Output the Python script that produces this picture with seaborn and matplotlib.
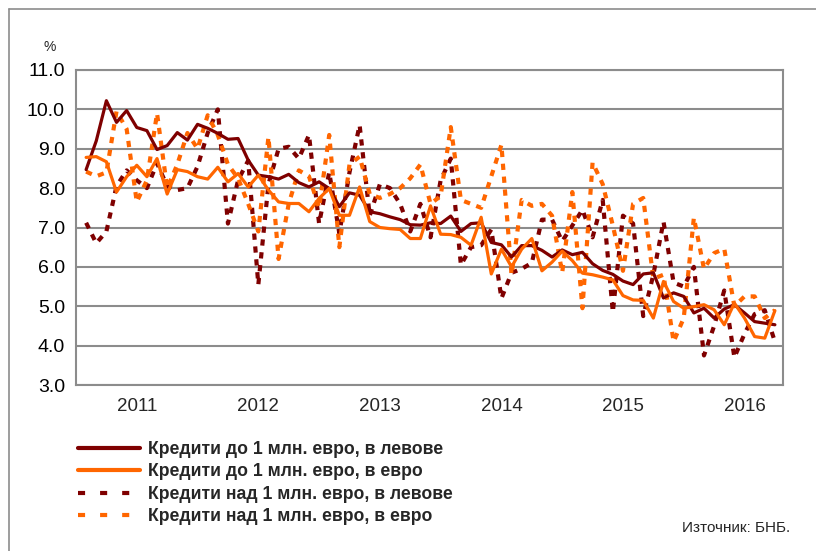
import numpy as np
import pandas as pd
import matplotlib
matplotlib.use("Agg")
import matplotlib.pyplot as plt
from matplotlib.lines import Line2D
import seaborn as sns

# =====================================================
# Data (monthly, Jan 2011 - Sep 2016), %
# =====================================================

months = np.arange(1, 70)

small_bgn = [8.47, 9.2, 10.22, 9.67, 9.97, 9.54, 9.46, 8.98, 9.08, 9.41, 9.22, 9.62,
             9.52, 9.39, 9.24, 9.26, 8.71, 8.33, 8.29, 8.23, 8.35, 8.14, 8.03, 8.16,
             7.99, 7.53, 7.88, 7.82, 7.4, 7.35, 7.27, 7.2, 7.07, 7.06, 7.12, 7.1,
             7.29, 6.9, 7.1, 7.12, 6.62, 6.56, 6.25, 6.54, 6.54, 6.42, 6.25, 6.43,
             6.31, 6.37, 6.08, 5.91, 5.81, 5.64, 5.55, 5.82, 5.85, 5.21, 5.34, 5.25,
             4.83, 4.95, 4.7, 4.93, 5.04, 4.83, 4.61, 4.57, 4.53]

small_eur = [8.78, 8.8, 8.67, 7.9, 8.29, 8.58, 8.29, 8.75, 7.85, 8.47, 8.42, 8.29,
             8.23, 8.53, 8.16, 8.37, 8.03, 8.33, 7.95, 7.65, 7.61, 7.61, 7.4, 7.74,
             7.99, 7.31, 7.31, 8.03, 7.15, 7.0, 6.97, 6.95, 6.72, 6.72, 7.55, 6.83,
             6.82, 6.75, 6.55, 7.26, 5.82, 6.45, 6.0, 6.45, 6.72, 5.9, 6.12, 6.4,
             6.16, 5.84, 5.8, 5.74, 5.67, 5.27, 5.16, 5.15, 4.7, 5.63, 5.12, 4.95,
             4.99, 5.04, 4.91, 4.53, 5.08, 4.7, 4.23, 4.19, 4.89]

large_bgn = [7.12, 6.6, 6.9, 8.05, 8.45, 8.2, 8.0, 8.63, 8.05, 7.95, 8.0, 8.55,
             9.4, 10.0, 7.1, 8.2, 8.7, 5.55, 8.1, 9.0, 9.05, 8.75, 9.35, 7.1,
             8.4, 6.85, 8.4, 9.6, 7.3, 8.1, 8.0, 7.6, 6.9, 7.6, 6.75, 8.2,
             8.75, 6.05, 6.5, 6.55, 6.95, 5.2, 5.85, 5.95, 6.1, 7.2, 7.2, 6.65,
             7.05, 7.45, 6.75, 7.7, 4.85, 7.3, 7.1, 4.75, 5.8, 7.15, 5.6, 5.5,
             6.0, 3.75, 4.5, 5.4, 3.7, 4.3, 4.8, 4.9, 4.1]

large_eur = [8.42, 8.3, 8.4, 9.95, 9.5, 7.65, 8.2, 9.9, 8.0, 8.6, 9.4, 9.0,
             9.85, 9.35, 8.6, 8.25, 7.6, 6.9, 9.3, 6.2, 7.6, 8.45, 8.3, 7.5,
             9.35, 6.5, 8.6, 8.8, 7.85, 7.75, 7.85, 8.0, 8.25, 8.6, 7.6, 7.8,
             9.55, 7.7, 7.6, 7.5, 8.3, 9.1, 5.8, 7.7, 7.55, 7.6, 7.3, 5.85,
             7.9, 4.95, 8.65, 8.1, 7.05, 5.9, 7.6, 7.75, 5.7, 5.8, 4.1, 4.7,
             7.25, 5.95, 6.35, 6.46, 5.0, 5.25, 5.25, 4.7, 4.9]

series_labels = [
    "Кредити до 1 млн. евро, в левове",
    "Кредити до 1 млн. евро, в евро",
    "Кредити над 1 млн. евро, в левове",
    "Кредити над 1 млн. евро, в евро",
]
year_labels = ["2011", "2012", "2013", "2014", "2015", "2016"]

DARK = "#7f0000"
ORANGE = "#ff6600"
GRID = "#8c8c8c"

# =====================================================
# Figure
# =====================================================

sns.set_theme(style="white")
plt.rcParams["font.family"] = ["Liberation Sans", "DejaVu Sans"]

fig = plt.figure(figsize=(8.16, 5.51), dpi=100)
W, H = 816, 551
ax = fig.add_axes([76 / W, 1 - 385 / H, (783 - 76) / W, (385 - 70) / H])

dot = (0, (1.5, 1.6))
sns.lineplot(x=months, y=large_bgn, ax=ax, color=DARK, linewidth=3.0, linestyle=dot)
sns.lineplot(x=months, y=large_eur, ax=ax, color=ORANGE, linewidth=3.0, linestyle=dot)
sns.lineplot(x=months, y=small_bgn, ax=ax, color=DARK, linewidth=2.3)
sns.lineplot(x=months, y=small_eur, ax=ax, color=ORANGE, linewidth=2.3)

ax.set_xlim(0, 69.8)
ax.set_ylim(3, 11)
ax.set_yticks(np.arange(3, 11.5, 1))
ax.set_yticklabels([f"{v:.1f}" for v in np.arange(3, 11.5, 1)], fontsize=14)
ax.yaxis.grid(True, color=GRID, linewidth=1.5)
ax.set_axisbelow(True)

ax.set_xticks(np.arange(0, 70, 12))
ax.set_xticks(np.arange(0, 70, 1), minor=True)
ax.set_xticklabels([])
ax.tick_params(axis="x", which="major", direction="inout", length=9, width=1.3, color=GRID)
ax.tick_params(axis="x", which="minor", direction="out", length=3, width=1.0, color=GRID)
ax.tick_params(axis="y", which="major", direction="out", length=5, width=1.3, color=GRID,
               pad=3, labelcolor="black")
ax.set_xlabel("")
ax.set_ylabel("")

for side in ["left", "right", "top", "bottom"]:
    ax.spines[side].set_visible(True)
    ax.spines[side].set_color(GRID)
    ax.spines[side].set_linewidth(1.5)

trans = ax.get_xaxis_transform()
for k, lab in enumerate(year_labels):
    ax.text(6 + 12 * k, -0.042, lab, transform=trans, ha="center", va="top", fontsize=13.5)

fig.text(50 / W, 1 - 47 / H, "%", ha="center", va="center", fontsize=10)

# legend
handles = [
    Line2D([], [], color=DARK, linewidth=3.0),
    Line2D([], [], color=ORANGE, linewidth=3.0),
    Line2D([], [], color=DARK, linewidth=3.0, linestyle=(0, (1.7, 3.6))),
    Line2D([], [], color=ORANGE, linewidth=3.0, linestyle=(0, (1.7, 3.6))),
]
fig.legend(handles, series_labels, loc="upper left",
           bbox_to_anchor=(78 / W, 1 - 441 / H), frameon=False,
           prop={"weight": "bold", "size": 12.7}, handlelength=3.5,
           handletextpad=0.45, labelspacing=0.31, borderaxespad=0, borderpad=0)

fig.text(790 / W, 1 - 528 / H, "Източник: БНБ.", ha="right", va="center", fontsize=11)

# outer frame
fig.add_artist(Line2D([9 / W, 9 / W], [0, 1 - 9 / H], color=GRID, linewidth=1.2))
fig.add_artist(Line2D([9 / W, 1], [1 - 9 / H, 1 - 9 / H], color=GRID, linewidth=1.2))

fig.savefig("out.png", dpi=100)
plt.close(fig)
